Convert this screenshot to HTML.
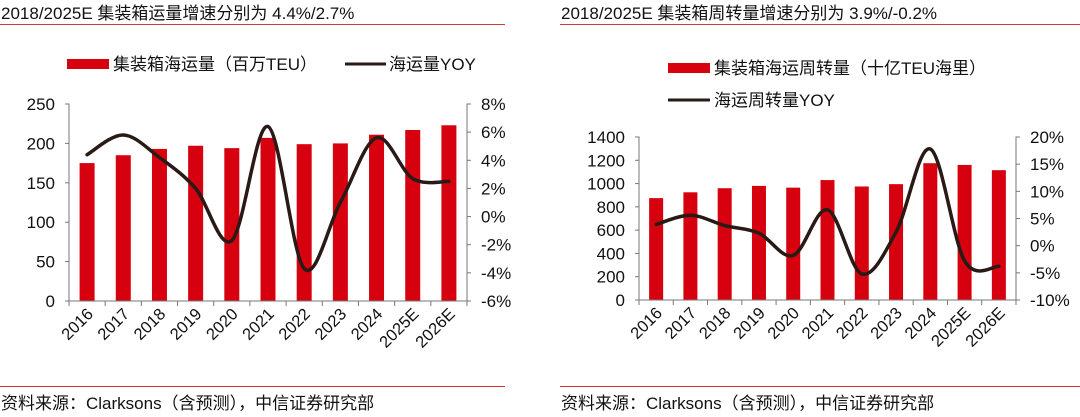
<!DOCTYPE html>
<html><head><meta charset="utf-8"><style>
html,body{margin:0;padding:0;background:#fff;width:1080px;height:417px;overflow:hidden}
svg text{font-family:"Liberation Sans","Noto Sans CJK SC",sans-serif;fill:#111}
</style></head><body>
<svg id="s" width="1080" height="417" xmlns="http://www.w3.org/2000/svg">
<text x="1" y="19" font-size="17">2018/2025E 集装箱运量增速分别为 4.4%/2.7%</text>
<line x1="0" y1="24.5" x2="505" y2="24.5" stroke="#d9333a" stroke-width="1"/>
<text x="561" y="19" font-size="17">2018/2025E 集装箱周转量增速分别为 3.9%/-0.2%</text>
<line x1="560" y1="24.5" x2="1080" y2="24.5" stroke="#d9333a" stroke-width="1"/>
<line x1="0" y1="386.5" x2="505" y2="386.5" stroke="#d9333a" stroke-width="1"/>
<text x="1" y="409" font-size="17">资料来源：Clarksons（含预测），中信证券研究部</text>
<line x1="560" y1="386.5" x2="1080" y2="386.5" stroke="#d9333a" stroke-width="1"/>
<text x="561" y="409" font-size="17">资料来源：Clarksons（含预测），中信证券研究部</text>

<rect x="67" y="59" width="42" height="10" fill="#d7000f"/>
<text x="113" y="70" font-size="17">集装箱海运量（百万TEU）</text>
<line x1="345" y1="64" x2="386" y2="64" stroke="#2a1a16" stroke-width="3"/>
<text x="389" y="70" font-size="17">海运量YOY</text>

<rect x="668" y="63" width="42" height="10" fill="#d7000f"/>
<text x="714" y="74" font-size="17">集装箱海运周转量（十亿TEU海里）</text>
<line x1="668" y1="100" x2="710" y2="100" stroke="#2a1a16" stroke-width="3"/>
<text x="714" y="106" font-size="17">海运周转量YOY</text>
<g id="L"></g><g id="R"></g>
</svg>
<script>
const categories=["2016","2017","2018","2019","2020","2021","2022","2023","2024","2025E","2026E"];
const volume=[175,185,193,197,194,207,199,200,211,217,223];
const volumeYoy=[4.4,5.8,4.2,2.0,-1.7,6.4,-3.7,1.0,5.6,2.7,2.5];
const volLeftTicks=[0,50,100,150,200,250];
const volRightTicks=[-6,-4,-2,0,2,4,6,8];
const turnover=[875,925,960,980,965,1030,975,995,1175,1160,1115];
const turnoverYoy=[3.9,5.6,3.7,2.3,-1.8,6.6,-5.2,2.5,17.8,-2.8,-3.8];
const turnLeftTicks=[0,200,400,600,800,1000,1200,1400];
const turnRightTicks=[-10,-5,0,5,10,15,20];
const NS="http://www.w3.org/2000/svg";
function mk(g,tag,attrs){const e=document.createElementNS(NS,tag);for(const k in attrs)e.setAttribute(k,attrs[k]);g.appendChild(e);return e;}
function draw(gid,o){
  const g=document.getElementById(gid);
  const n=categories.length,cw=(o.x1-o.x0)/n;
  const yL=v=>o.yb-(v-o.lmin)/(o.lmax-o.lmin)*(o.yb-o.yt);
  const yR=v=>o.yb-(v-o.rmin)/(o.rmax-o.rmin)*(o.yb-o.yt);
  const xc=i=>o.x0+cw*(i+0.5);
  o.bars.forEach((v,i)=>{
    const r=mk(g,'rect',{x:xc(i)-o.bw/2,y:yL(v),width:o.bw,height:o.yb-yL(v),fill:'#d7000f'});
    
    
  });
  let ax=mk(g,'path',{d:`M${o.x0-4},${o.yt}H${o.x0}V${o.yb}H${o.x1}M${o.x1+4},${o.yt}H${o.x1}V${o.yb}`,stroke:'#777',fill:'none','stroke-width':1});
  
  
  o.lt.forEach(v=>{
    mk(g,'line',{x1:o.x0-4,x2:o.x0,y1:yL(v),y2:yL(v),stroke:'#777'});
    const t=mk(g,'text',{x:o.x0-14,y:yL(v)+6,'font-size':17,'text-anchor':'end'});t.textContent=v;
    
    
  });
  o.rt.forEach(v=>{
    mk(g,'line',{x1:o.x1,x2:o.x1+4,y1:yR(v),y2:yR(v),stroke:'#777'});
    const t=mk(g,'text',{x:o.x1+14,y:yR(v)+6,'font-size':17});t.textContent=v+'%';
    
    
  });
  for(let i=0;i<=n;i++)mk(g,'line',{x1:o.x0+cw*i,x2:o.x0+cw*i,y1:o.yb,y2:o.yb+5,stroke:'#777'});
  categories.forEach((c,i)=>{
    const x=xc(i)+7,y=o.yb+14;
    const t=mk(g,'text',{x:x,y:y,'font-size':16.5,'text-anchor':'end',transform:`rotate(-45 ${x} ${y})`});t.textContent=c;
    
    
  });
  const p=o.line.map((v,i)=>[xc(i),yR(v)]);
  let d=`M${p[0][0]},${p[0][1]}`;
  for(let i=0;i<p.length-1;i++){
    const a=p[Math.max(i-1,0)],b=p[i],c=p[i+1],e=p[Math.min(i+2,p.length-1)];
    d+=` C${b[0]+(c[0]-a[0])/6},${b[1]+(c[1]-a[1])/6} ${c[0]-(e[0]-b[0])/6},${c[1]-(e[1]-b[1])/6} ${c[0]},${c[1]}`;
  }
  const l=mk(g,'path',{d:d,fill:'none',stroke:'#2a1a16','stroke-width':3.5,'stroke-linecap':'round'});
  
  
}
draw('L',{x0:69,x1:467,yt:104,yb:301,lmin:0,lmax:250,rmin:-6,rmax:8,bw:15,bars:volume,line:volumeYoy,lt:volLeftTicks,rt:volRightTicks});
draw('R',{x0:639,x1:1016,yt:137,yb:300,lmin:0,lmax:1400,rmin:-10,rmax:20,bw:14,bars:turnover,line:turnoverYoy,lt:turnLeftTicks,rt:turnRightTicks});
</script>
</body></html>
